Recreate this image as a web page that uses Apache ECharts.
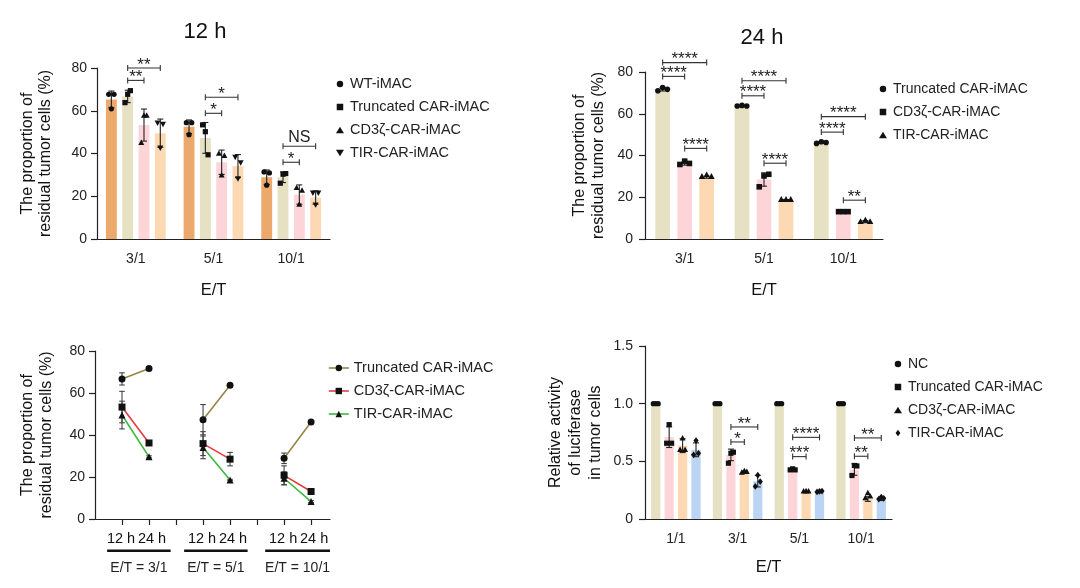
<!DOCTYPE html>
<html><head><meta charset="utf-8">
<script src="https://cdn.jsdelivr.net/npm/echarts@6/dist/echarts.min.js"></script>
<style>html,body{margin:0;padding:0;background:#fff}#c{width:1080px;height:588px}</style>
</head><body><div id="c"></div>
<script>
// ================= DATA =================
// Panel A: 12 h
const cats12 = ['3/1', '5/1', '10/1'];
const names12 = ['WT-iMAC', 'Truncated CAR-iMAC', 'CD3ζ-CAR-iMAC', 'TIR-CAR-iMAC'];
const mean12WT = [65.3, 52.5, 28.9];
const mean12Trunc = [66.7, 47.3, 28.9];
const mean12CD3z = [53.3, 35.9, 20.8];
const mean12TIR = [49.5, 34.1, 19.4];
const sd12WT = [3.9, 3.2, 3.4];
const sd12Trunc = [2.9, 7.2, 2.5];
const sd12CD3z = [7.5, 5.7, 4.5];
const sd12TIR = [6.6, 5.4, 3.1];
const pts12WT = [[67.7, 60.9, 67.7], [54.4, 48.8, 54.4], [31.4, 25.2, 30.9]];
const pts12Trunc = [[63.8, 67.7, 69.4], [53.4, 50.2, 39.4], [26.1, 30.3, 30.6]];
const pts12CD3z = [[45.0, 57.8, 57.8], [40.0, 29.8, 38.9], [23.9, 16.1, 22.7]];
const pts12TIR = [[54.4, 42.7, 53.8], [38.4, 28.3, 35.8], [21.6, 16.1, 21.6]];
const sig12 = [
  {cat: 0, y: 80.0, from: 1, to: 3, text: '**'},
  {cat: 0, y: 74.2, from: 1, to: 2, text: '**'},
  {cat: 1, y: 66.3, from: 1, to: 3, text: '*'},
  {cat: 1, y: 58.8, from: 1, to: 2, text: '*'},
  {cat: 2, y: 43.4, from: 1, to: 3, text: 'NS'},
  {cat: 2, y: 35.9, from: 1, to: 2, text: '*'}
];

// Panel B: 24 h
const cats24 = ['3/1', '5/1', '10/1'];
const names24 = ['Truncated CAR-iMAC', 'CD3ζ-CAR-iMAC', 'TIR-CAR-iMAC'];
const mean24Trunc = [71.7, 63.7, 46.2];
const mean24CD3z = [36.2, 28.5, 13.1];
const mean24TIR = [29.6, 18.6, 8.3];
const sd24Trunc = [0.8, 0.2, 0.4];
const sd24CD3z = [0.8, 3.2, 0.3];
const sd24TIR = [0.5, 0.3, 0.5];
const pts24Trunc = [[71.0, 72.6, 71.7], [63.7, 64.0, 63.7], [45.8, 46.6, 46.2]];
const pts24CD3z = [[35.7, 37.3, 36.2], [25.0, 30.2, 31.0], [13.1, 13.1, 13.1]];
const pts24TIR = [[29.9, 30.7, 29.9], [18.9, 18.9, 18.9], [8.3, 9.0, 8.3]];
const sig24 = [
  {cat: 0, y: 84.5, from: 0, to: 2, text: '****'},
  {cat: 0, y: 77.9, from: 0, to: 1, text: '****'},
  {cat: 0, y: 43.4, from: 1, to: 2, text: '****'},
  {cat: 1, y: 75.8, from: 0, to: 2, text: '****'},
  {cat: 1, y: 68.6, from: 0, to: 1, text: '****'},
  {cat: 1, y: 36.3, from: 1, to: 2, text: '****'},
  {cat: 2, y: 58.6, from: 0, to: 2, text: '****'},
  {cat: 2, y: 51.2, from: 0, to: 1, text: '****'},
  {cat: 2, y: 18.6, from: 1, to: 2, text: '**'}
];

// Panel C: time course (uses 12 h and 24 h means)
const names3 = ['Truncated CAR-iMAC', 'CD3ζ-CAR-iMAC', 'TIR-CAR-iMAC'];
const timeLabels = ['12 h', '24 h'];
const groupLabels3 = ['E/T = 3/1', 'E/T = 5/1', 'E/T = 10/1'];

// Panel D: luciferase
const catsLuc = ['1/1', '3/1', '5/1', '10/1'];
const namesLuc = ['NC', 'Truncated CAR-iMAC', 'CD3ζ-CAR-iMAC', 'TIR-CAR-iMAC'];
const meanLucNC = [1.0, 1.0, 1.0, 1.0];
const meanLucTrunc = [0.71, 0.556, 0.426, 0.429];
const meanLucCD3z = [0.636, 0.406, 0.233, 0.173];
const meanLucTIR = [0.60, 0.328, 0.233, 0.17];
const sdLucNC = [0, 0, 0, 0];
const sdLucTrunc = [0.09, 0.05, 0.01, 0.05];
const sdLucCD3z = [0.06, 0.01, 0.005, 0.02];
const sdLucTIR = [0.06, 0.05, 0.005, 0.01];
const ptsLucNC = [[1, 1, 1], [1, 1, 1], [1, 1, 1], [1, 1, 1]];
const ptsLucTrunc = [[0.657, 0.818, 0.657], [0.484, 0.57, 0.579], [0.426, 0.435, 0.426], [0.377, 0.464, 0.46]];
const ptsLucCD3z = [[0.60, 0.70, 0.60], [0.403, 0.417, 0.41], [0.24, 0.242, 0.24], [0.181, 0.225, 0.196]];
const ptsLucTIR = [[0.556, 0.68, 0.57], [0.282, 0.38, 0.325], [0.235, 0.24, 0.242], [0.173, 0.19, 0.179]];
const sigLuc = [
  {cat: 1, y: 0.798, from: 1, to: 3, text: '**'},
  {cat: 1, y: 0.668, from: 1, to: 2, text: '*'},
  {cat: 2, y: 0.708, from: 1, to: 3, text: '****'},
  {cat: 2, y: 0.541, from: 1, to: 2, text: '***'},
  {cat: 3, y: 0.703, from: 1, to: 3, text: '**'},
  {cat: 3, y: 0.544, from: 1, to: 2, text: '**'}
];

// ================= STYLE / LAYOUT =================
const FONT = "'Liberation Sans', Arial, sans-serif";
const INK = '#222';
const colors12 = ['#ECA96B', '#E6E1C2', '#FDD5D9', '#FDD9B3'];
const colors24 = ['#E6E1C2', '#FDD5D9', '#FDD9B3'];
const colorsLuc = ['#E6E1C2', '#FDD5D9', '#FDD9B3', '#BBD4F4'];
const lineColors3 = ['#958548', '#E63A40', '#3DB83D'];
const IC_CIRCLE = 'path://M5,0A5,5,0,1,1,5,10A5,5,0,1,1,5,0Z';
const IC_SQUARE = 'path://M0,0H10V10H0Z';
const IC_TRI = 'path://M5,0L10.5,9H-0.5Z';
const IC_INV = 'path://M-0.5,0H10.5L5,9Z';
const IC_DIA = 'path://M5,0L9.5,6L5,12L0.5,6Z';

function barOffsets(n, w, gap) {
  const total = n * w + (n - 1) * w * gap;
  const res = [];
  for (let j = 0; j < n; j++) res.push(-total / 2 + w / 2 + j * w * (1 + gap));
  return res;
}
const L1 = {bw: 0.14, gap: 0.5}, L2 = {bw: 0.185, gap: 0.5}, L4 = {bw: 0.15, gap: 0.45};
const off1 = barOffsets(4, L1.bw, L1.gap);
const off2 = barOffsets(3, L2.bw, L2.gap);
const off4 = barOffsets(4, L4.bw, L4.gap);

function shapeEl(type, x, y, s) {
  const st = {fill: '#111'};
  if (type === 'circle') return {type: 'circle', shape: {cx: x, cy: y, r: s}, style: st};
  if (type === 'square') return {type: 'rect', shape: {x: x - s, y: y - s, width: 2 * s, height: 2 * s}, style: st};
  if (type === 'triangle') return {type: 'polygon', shape: {points: [[x, y - s * 1.25], [x - s * 1.15, y + s * 0.85], [x + s * 1.15, y + s * 0.85]]}, style: st};
  if (type === 'invTriangle') return {type: 'polygon', shape: {points: [[x - s * 1.15, y - s * 0.85], [x + s * 1.15, y - s * 0.85], [x, y + s * 1.25]]}, style: st};
  return {type: 'polygon', shape: {points: [[x, y - s * 1.3], [x + s, y], [x, y + s * 1.3], [x - s, y]]}, style: st};
}

function barSeries(ax, names, means, colors, L) {
  return names.map((n, i) => ({
    name: n, type: 'bar', xAxisIndex: ax, yAxisIndex: ax, data: means[i],
    barWidth: (L.bw * 100) + '%', barGap: (L.gap * 100) + '%',
    itemStyle: {color: colors[i]}, silent: true, z: 2
  }));
}

function dotSeries(ax, pts, offsets, shapes, jit, r) {
  const data = [];
  pts.forEach((ser, b) => ser.forEach((reps, c) => reps.forEach((v, k) => data.push([c, v, b, k]))));
  return {
    type: 'custom', xAxisIndex: ax, yAxisIndex: ax, z: 6, silent: true, clip: false,
    encode: {x: 0, y: 1}, data: data,
    renderItem: function (params, api) {
      const c = api.value(0), v = api.value(1), b = api.value(2), k = api.value(3);
      const p = api.coord([c, v]);
      const band = api.size([1, 0])[0];
      return shapeEl(shapes[b], p[0] + (offsets[b] + jit[k]) * band, p[1], r);
    }
  };
}

function errSeries(ax, means, sds, offsets, cap, color, z) {
  const data = [];
  means.forEach((ser, b) => ser.forEach((m, c) => data.push([c, m, sds[b][c], b])));
  return {
    type: 'custom', xAxisIndex: ax, yAxisIndex: ax, z: z, silent: true, clip: false,
    encode: {x: 0, y: 1}, data: data,
    renderItem: function (params, api) {
      const c = api.value(0), m = api.value(1), s = api.value(2), b = api.value(3);
      if (!(s > 0)) return null;
      const band = api.size([1, 0])[0];
      const pt = api.coord([c, m + s]), pb = api.coord([c, m - s]);
      const x = pt[0] + (offsets ? offsets[b] * band : 0);
      const ls = {stroke: color, lineWidth: 1.1};
      return {type: 'group', children: [
        {type: 'line', shape: {x1: x, y1: pt[1], x2: x, y2: pb[1]}, style: ls},
        {type: 'line', shape: {x1: x - cap, y1: pt[1], x2: x + cap, y2: pt[1]}, style: ls},
        {type: 'line', shape: {x1: x - cap, y1: pb[1], x2: x + cap, y2: pb[1]}, style: ls}
      ]};
    }
  };
}

function sigSeries(ax, list, offsets) {
  return {
    type: 'custom', xAxisIndex: ax, yAxisIndex: ax, z: 7, silent: true, clip: false,
    encode: {x: 0, y: 1}, data: list.map(d => [d.cat, d.y, d.from, d.to]),
    renderItem: function (params, api) {
      const d = list[params.dataIndex];
      const p = api.coord([api.value(0), api.value(1)]);
      const band = api.size([1, 0])[0];
      const x1 = p[0] + offsets[api.value(2)] * band, x2 = p[0] + offsets[api.value(3)] * band;
      const y = p[1];
      const ls = {stroke: '#333', lineWidth: 1.1};
      const isNS = d.text === 'NS';
      return {type: 'group', children: [
        {type: 'line', shape: {x1: x1, y1: y, x2: x2, y2: y}, style: ls},
        {type: 'line', shape: {x1: x1, y1: y - 3, x2: x1, y2: y + 3}, style: ls},
        {type: 'line', shape: {x1: x2, y1: y - 3, x2: x2, y2: y + 3}, style: ls},
        {type: 'text', x: (x1 + x2) / 2, y: isNS ? y - 8.5 : y - 3,
         style: {text: d.text, fontSize: isNS ? 16 : 17, fontFamily: FONT, fill: '#222', align: 'center', verticalAlign: 'middle'}}
      ]};
    }
  };
}

// Panel C slots on its value x-axis
const slot3 = [[1, 2], [4, 5], [7, 8]];
const span3 = [[0.45, 2.8], [3.3, 5.65], [6.3, 8.7]];
function lineData(m12, m24) {
  const d = [];
  for (let g = 0; g < 3; g++) {
    d.push([slot3[g][0], m12[g]], [slot3[g][1], m24[g]]);
    if (g < 2) d.push([slot3[g][1] + 1, '-']);
  }
  return d;
}
const m12C = [mean12Trunc, mean12CD3z, mean12TIR];
const m24C = [mean24Trunc, mean24CD3z, mean24TIR];
const s12C = [sd12Trunc, sd12CD3z, sd12TIR];
const s24C = [sd24Trunc, sd24CD3z, sd24TIR];
const symbols3 = ['circle', 'rect', 'triangle'];

const lineSeries = names3.map((n, i) => ({
  name: n, type: 'line', xAxisIndex: 2, yAxisIndex: 2, data: lineData(m12C[i], m24C[i]),
  symbol: symbols3[i], symbolSize: 7, showSymbol: true, connectNulls: false,
  lineStyle: {color: lineColors3[i], width: 1.6}, itemStyle: {color: '#111', borderWidth: 0},
  z: 3, silent: true
}));

const err3Data = [];
names3.forEach((n, i) => {
  for (let g = 0; g < 3; g++) {
    err3Data.push([slot3[g][0], m12C[i][g], s12C[i][g]]);
    err3Data.push([slot3[g][1], m24C[i][g], s24C[i][g]]);
  }
});
const err3 = {
  type: 'custom', xAxisIndex: 2, yAxisIndex: 2, z: 2, silent: true, clip: false,
  encode: {x: 0, y: 1}, data: err3Data,
  renderItem: function (params, api) {
    const x = api.value(0), m = api.value(1), s = api.value(2);
    const pt = api.coord([x, m + s]), pb = api.coord([x, m - s]);
    const ls = {stroke: '#444', lineWidth: 1.1};
    const cap = 2.8;
    return {type: 'group', children: [
      {type: 'line', shape: {x1: pt[0], y1: pt[1], x2: pt[0], y2: pb[1]}, style: ls},
      {type: 'line', shape: {x1: pt[0] - cap, y1: pt[1], x2: pt[0] + cap, y2: pt[1]}, style: ls},
      {type: 'line', shape: {x1: pt[0] - cap, y1: pb[1], x2: pt[0] + cap, y2: pb[1]}, style: ls}
    ]};
  }
};
// group decorations under panel C: time labels, underline, E/T label
const group3 = {
  type: 'custom', xAxisIndex: 2, yAxisIndex: 2, z: 5, silent: true, clip: false,
  encode: {x: 0, y: 1}, data: span3.map(s => [s[0], 0, s[1]]),
  renderItem: function (params, api) {
    const g = params.dataIndex;
    const a = api.coord([api.value(0), 0]), b = api.coord([api.value(2), 0]);
    const y = a[1];
    const t0 = api.coord([slot3[g][0], 0]), t1 = api.coord([slot3[g][1], 0]);
    const ts = {fontSize: 14.5, fontFamily: FONT, fill: '#111', align: 'center', verticalAlign: 'middle'};
    return {type: 'group', children: [
      {type: 'text', x: t0[0] - 1, y: y + 20, style: Object.assign({text: timeLabels[0]}, ts)},
      {type: 'text', x: t1[0] + 3, y: y + 20, style: Object.assign({text: timeLabels[1]}, ts)},
      {type: 'rect', shape: {x: a[0], y: y + 30.5, width: b[0] - a[0], height: 2.6}, style: {fill: '#111'}},
      {type: 'text', x: (a[0] + b[0]) / 2, y: y + 49,
       style: {text: groupLabels3[g], fontSize: 14, fontFamily: FONT, fill: '#222', align: 'center', verticalAlign: 'middle'}}
    ]};
  }
};

// ================= AXES =================
const axLine = {lineStyle: {color: INK, width: 1.2}};
function yAxis(grid, max, interval, gap, nameText, lh, fmt, margin) {
  return {
    gridIndex: grid, type: 'value', min: 0, max: max, interval: interval,
    axisLine: {show: true, ...axLine}, axisTick: {show: true, length: 6, lineStyle: {color: INK, width: 1.2}},
    axisLabel: {fontSize: 14, color: INK, fontFamily: FONT, margin: margin, formatter: fmt},
    splitLine: {show: false},
    name: nameText, nameLocation: 'middle', nameRotate: 90, nameGap: gap,
    nameTextStyle: {fontSize: 16, color: '#111', fontFamily: FONT, lineHeight: lh}
  };
}
function xCat(grid, data, gap) {
  return {
    gridIndex: grid, type: 'category', data: data,
    axisLine: axLine, axisTick: {alignWithLabel: true, length: 6, lineStyle: {color: INK, width: 1.2}},
    axisLabel: {fontSize: 14, color: INK, fontFamily: FONT, margin: 13},
    name: 'E/T', nameLocation: 'middle', nameGap: gap,
    nameTextStyle: {fontSize: 16.5, color: '#111', fontFamily: FONT}
  };
}
const yName = 'The proportion of\nresidual tumor cells (%)';

function symLegend(names, icons, left, top, fs) {
  return {
    orient: 'vertical', left: left, top: top, itemWidth: 10, itemHeight: 6.5, itemGap: 7,
    selectedMode: false, symbolKeepAspect: true,
    textStyle: {fontSize: fs, fontFamily: FONT, color: '#222', lineHeight: 16},
    data: names.map((n, i) => ({name: n, icon: icons[i], itemStyle: {color: '#111', borderWidth: 0}}))
  };
}

const option = {
  animation: false,
  textStyle: {fontFamily: FONT},
  grid: [
    {left: 97, top: 68, width: 233, height: 171, outerBoundsMode: 'none'},
    {left: 645, top: 72, width: 238, height: 167, outerBoundsMode: 'none'},
    {left: 95, top: 351, width: 235, height: 168, outerBoundsMode: 'none'},
    {left: 645, top: 346, width: 247, height: 173, outerBoundsMode: 'none'}
  ],
  xAxis: [
    xCat(0, cats12, 43),
    xCat(1, cats24, 43),
    {
      gridIndex: 2, type: 'value', min: 0, max: 8.7,
      axisLine: axLine,
      axisTick: {show: true, length: 6, lineStyle: {color: INK, width: 1.2}, customValues: [1, 2, 3, 4, 5, 6, 7, 8]},
      axisLabel: {show: false},
      splitLine: {show: false}
    },
    xCat(3, catsLuc, 40)
  ],
  yAxis: [
    yAxis(0, 80, 20, 42, yName, 18, null, 10),
    yAxis(1, 80, 20, 37, yName, 19, null, 12),
    yAxis(2, 80, 20, 39, yName, 19, null, 10),
    yAxis(3, 1.5, 0.5, 39, 'Relative activity\nof luciferase\nin tumor cells', 20, v => (v === 0 ? '0' : v.toFixed(1)), 12)
  ],
  legend: [
    symLegend(names12, [IC_CIRCLE, IC_SQUARE, IC_TRI, IC_INV], 331, 71, 14.5),
    symLegend(names24, [IC_CIRCLE, IC_SQUARE, IC_TRI], 874, 76, 14),
    {
      orient: 'vertical', left: 323, top: 355, itemWidth: 20, itemHeight: 8, itemGap: 7, selectedMode: false,
      textStyle: {fontSize: 14.5, fontFamily: FONT, color: '#222', lineHeight: 16},
      data: names3.map((n, i) => ({name: n, itemStyle: {color: '#111', borderWidth: 0}, lineStyle: {color: lineColors3[i], width: 1.6}}))
    },
    symLegend(namesLuc, [IC_CIRCLE, IC_SQUARE, IC_TRI, IC_DIA], 889, 351, 14)
  ],
  graphic: [
    {type: 'text', x: 205, y: 32, style: {text: '12 h', fontSize: 22, fontFamily: FONT, fill: '#111', align: 'center', verticalAlign: 'middle'}},
    {type: 'text', x: 762, y: 38, style: {text: '24 h', fontSize: 22, fontFamily: FONT, fill: '#111', align: 'center', verticalAlign: 'middle'}}
  ],
  series: [].concat(
    lineSeries,
    barSeries(0, names12, [mean12WT, mean12Trunc, mean12CD3z, mean12TIR], colors12, L1),
    barSeries(1, names24, [mean24Trunc, mean24CD3z, mean24TIR], colors24, L2),
    barSeries(3, namesLuc, [meanLucNC, meanLucTrunc, meanLucCD3z, meanLucTIR], colorsLuc, L4),
    [
      errSeries(0, [mean12WT, mean12Trunc, mean12CD3z, mean12TIR], [sd12WT, sd12Trunc, sd12CD3z, sd12TIR], off1, 3, '#222', 5),
      dotSeries(0, [pts12WT, pts12Trunc, pts12CD3z, pts12TIR], off1, ['circle', 'square', 'triangle', 'invTriangle'], [-0.035, 0, 0.035], 2.6),
      sigSeries(0, sig12, off1),
      errSeries(1, [mean24Trunc, mean24CD3z, mean24TIR], [sd24Trunc, sd24CD3z, sd24TIR], off2, 3, '#222', 5),
      dotSeries(1, [pts24Trunc, pts24CD3z, pts24TIR], off2, ['circle', 'square', 'triangle'], [-0.06, 0, 0.06], 2.8),
      sigSeries(1, sig24, off2),
      err3, group3,
      errSeries(3, [meanLucNC, meanLucTrunc, meanLucCD3z, meanLucTIR], [sdLucNC, sdLucTrunc, sdLucCD3z, sdLucTIR], off4, 3, '#222', 5),
      dotSeries(3, [ptsLucNC, ptsLucTrunc, ptsLucCD3z, ptsLucTIR], off4, ['circle', 'square', 'triangle', 'diamond'], [-0.04, 0, 0.04], 2.6),
      sigSeries(3, sigLuc, off4)
    ]
  )
};

const chart = echarts.init(document.getElementById('c'), null, {renderer: 'canvas'});
chart.setOption(option);
</script>
</body></html>
